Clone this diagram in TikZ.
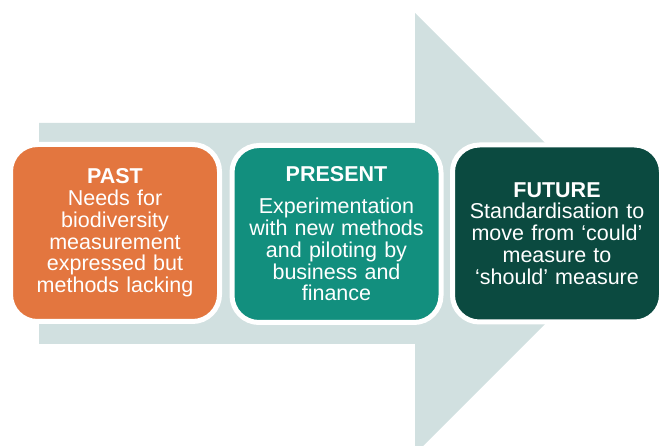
\documentclass[tikz,border=0pt]{standalone}
\usepackage{fontspec}
\setmainfont{Liberation Sans}
\definecolor{arrowgrey}{HTML}{D1E0E0}
\definecolor{pastcol}{HTML}{E3763F}
\definecolor{presentcol}{HTML}{128F7E}
\definecolor{futurecol}{HTML}{0B4A40}
\begin{document}
\begin{tikzpicture}[x=1pt,y=-1pt,
  stage/.style={rounded corners=27pt, draw=white, line width=5pt,
    minimum width=209pt, minimum height=177pt, text width=204pt,
    align=center, text=white, inner sep=0pt,
    font=\fontsize{21.5}{21.8}\selectfont}]
\useasboundingbox (0,0) rectangle (665,446);
\clip (0,0) rectangle (665,446);
\fill[arrowgrey] (39,123) -- (415,123) -- (415,13) -- (635.5,233.5) -- (415,454) -- (415,344) -- (39,344) -- cycle;
\node[stage, fill=pastcol] (past) at (115,233) {\textbf{PAST}\\Needs for\\biodiversity\\measurement\\expressed but\\methods lacking};
\node[stage, fill=presentcol] (present) at (336.5,234) {\textbf{PRESENT}\\[10pt]Experimentation\\with new methods\\and piloting by\\business and\\finance};
\node[stage, fill=futurecol] (future) at (557,233.5) {\textbf{FUTURE}\\Standardisation to\\move from ‘could’\\measure to\\‘should’ measure};
\end{tikzpicture}
\end{document}
